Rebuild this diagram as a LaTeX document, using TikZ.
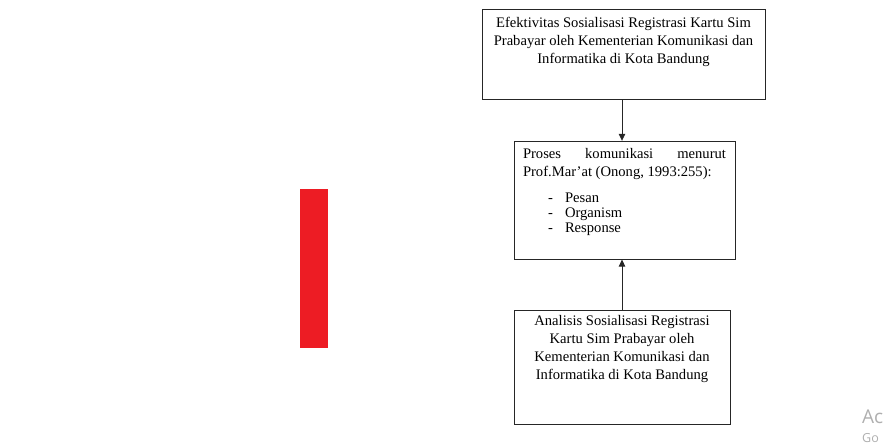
\documentclass[tikz,border=0pt]{standalone}
\usepackage{fontspec}
\setmainfont{Liberation Serif}
\newfontfamily\wmfont{Open Sans}
\usepackage{tikz}
\usetikzlibrary{arrows.meta, positioning}
\definecolor{markred}{RGB}{237,28,36}
\definecolor{wmgray}{RGB}{175,175,175}
\tikzset{
  framebox/.style={rectangle, draw=black!85, line width=0.8pt,
    inner xsep=4pt, inner ysep=5pt, anchor=north,
    font=\fontsize{14.6}{18}\selectfont},
  arrow/.style={-{Triangle[length=7pt, width=6.5pt]}, line width=0.8pt, color=black!85},
  watermark/.style={anchor=west, inner sep=0pt, text=wmgray}
}
\begin{document}
\begin{tikzpicture}[x=1pt, y=-1pt]
  \useasboundingbox (0,0) rectangle (889,446);

  % red marker
  \fill[markred] (300,189) rectangle (328,348);

  % Top box
  \node[framebox, inner ysep=8pt] (efek) at (623.5,9) {\parbox[t][74pt][t]{275pt}{\centering
    Efektivitas Sosialisasi Registrasi Kartu Sim\\
    Prabayar oleh Kementerian Komunikasi dan\\
    Informatika di Kota Bandung}};

  % Middle box
  \node[framebox, inner xsep=9pt, inner ysep=7.5pt, below=41pt of efek.south, xshift=1pt] (proses) {\parbox[t][103pt][t]{203pt}{%
    Proses komunikasi menurut\linebreak Prof.Mar'at (Onong, 1993:255):\par
    \vspace{10pt}\fontsize{14.6}{15.2}\selectfont
    \hspace*{25pt}\makebox[17pt][l]{-}Pesan\\
    \hspace*{25pt}\makebox[17pt][l]{-}Organism\\
    \hspace*{25pt}\makebox[17pt][l]{-}Response}};

  % Bottom box
  \node[framebox, inner xsep=6pt, inner ysep=5.5pt, below=50pt of proses.south, xshift=-2.5pt] (analisis) {\parbox[t][103pt][t]{204pt}{\centering
    Analisis Sosialisasi Registrasi\\
    Kartu Sim Prabayar oleh\\
    Kementerian Komunikasi dan\\
    Informatika di Kota Bandung}};

  \draw[arrow] (efek.south -| analisis.north) -- (analisis.north |- proses.north);
  \draw[arrow] (analisis.north) -- (analisis.north |- proses.south);

  % faint text at the corner
  \node[watermark, font=\wmfont\fontsize{19}{19}\selectfont] (act) at (862,417) {Ac};
  \node[watermark, font=\wmfont\fontsize{12.5}{12.5}\selectfont] (go) at (862,438) {Go};
\end{tikzpicture}
\end{document}
